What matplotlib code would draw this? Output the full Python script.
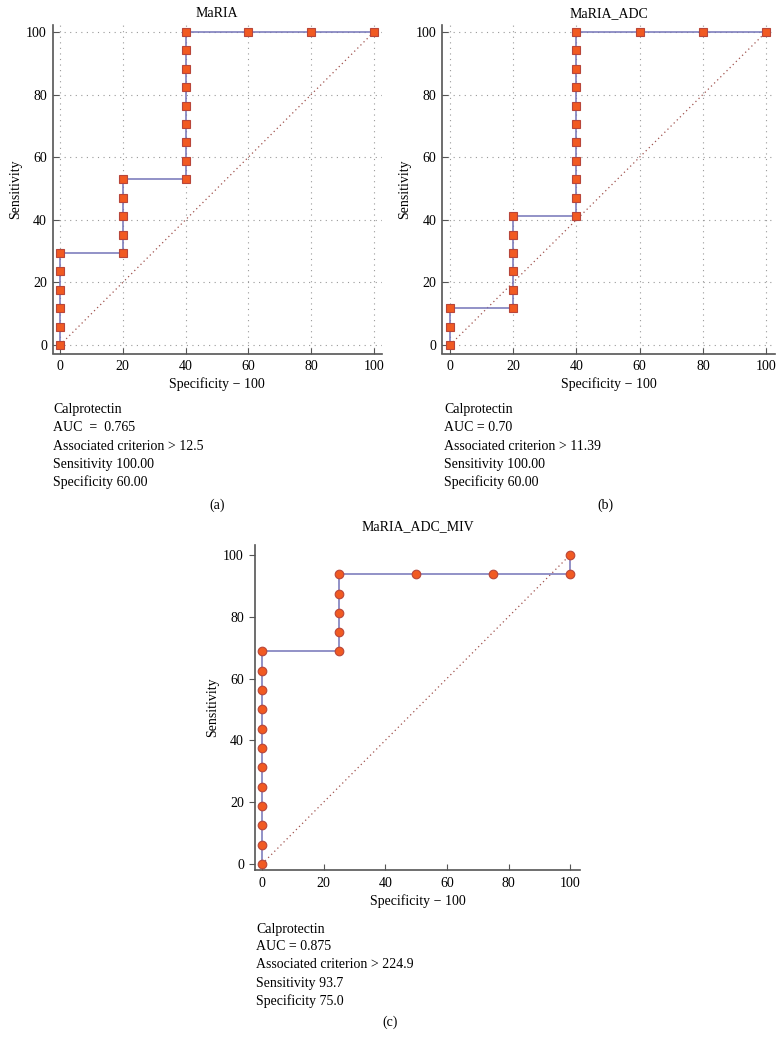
import matplotlib
matplotlib.use('Agg')
import matplotlib.pyplot as plt

plt.rcParams['font.family'] = ['Liberation Serif', 'DejaVu Serif']

W, H = 783, 1047

# ROC points (100 - specificity, sensitivity)
maria_x = [0, 0, 0, 0, 0, 0, 20, 20, 20, 20, 20, 40, 40, 40, 40, 40, 40, 40, 40, 40, 60, 80, 100]
maria_y = [0, 5.88, 11.76, 17.65, 23.53, 29.41, 29.41, 35.29, 41.18, 47.06, 52.94,
           52.94, 58.82, 64.71, 70.59, 76.47, 82.35, 88.24, 94.12, 100, 100, 100, 100]

adc_x = [0, 0, 0, 20, 20, 20, 20, 20, 20, 40, 40, 40, 40, 40, 40, 40, 40, 40, 40, 40, 60, 80, 100]
adc_y = [0, 5.88, 11.76, 11.76, 17.65, 23.53, 29.41, 35.29, 41.18,
         41.18, 47.06, 52.94, 58.82, 64.71, 70.59, 76.47, 82.35, 88.24, 94.12, 100, 100, 100, 100]

miv_x = [0] * 12 + [25, 25, 25, 25, 25, 50, 75, 100, 100]
miv_y = [0, 6.25, 12.5, 18.75, 25, 31.25, 37.5, 43.75, 50, 56.25, 62.5, 68.75,
         68.75, 75, 81.25, 87.5, 93.75, 93.75, 93.75, 93.75, 100]

ticks = [0, 20, 40, 60, 80, 100]

notes_a = ['Calprotectin', 'AUC  =  0.765', 'Associated criterion > 12.5',
           'Sensitivity 100.00', 'Specificity 60.00']
notes_b = ['Calprotectin', 'AUC = 0.70', 'Associated criterion > 11.39',
           'Sensitivity 100.00', 'Specificity 60.00']
notes_c = ['Calprotectin', 'AUC = 0.875', 'Associated criterion > 224.9',
           'Sensitivity 93.7', 'Specificity 75.0']

line_col = '#7474b8'
face_col = '#f15a22'
edge_col = '#b8463a'
diag_col = '#a0524d'
fs = 10


def box(l, r, t, b):
    return [l / W, 1 - b / H, (r - l) / W, (b - t) / H]


def roc_axes(fig, rect, xs, ys, title, marker, ms, xlim, ylim, grid, ytick_dir, title_pad):
    ax = fig.add_axes(rect)
    ax.plot([0, 100], [0, 100], linestyle=(0, (1, 2.5)), color=diag_col, lw=0.9, zorder=2)
    ax.plot(xs, ys, color=line_col, lw=1.1, marker=marker, ms=ms,
            mfc=face_col, mec=edge_col, mew=0.8, zorder=3, clip_on=False)
    ax.set_xlim(*xlim)
    ax.set_ylim(*ylim)
    ax.set_xticks(ticks)
    ax.set_yticks(ticks)
    for s in ['top', 'right']:
        ax.spines[s].set_visible(False)
    for s in ['left', 'bottom']:
        ax.spines[s].set_color('#555555')
        ax.spines[s].set_linewidth(1.2)
    ax.tick_params(axis='x', direction='in', length=4, color='#555555', labelsize=fs, pad=5)
    ax.tick_params(axis='y', direction=ytick_dir, length=4, color='#555555', labelsize=fs, pad=4)
    if grid:
        ax.grid(True, linestyle=(0, (1, 4)), color='#999999', lw=0.8)
        ax.set_axisbelow(True)
    ax.set_title(title, fontsize=fs, pad=title_pad)
    ax.set_xlabel('Specificity \u2212 100', fontsize=fs, labelpad=3)
    ax.set_ylabel('Sensitivity', fontsize=fs, labelpad=3)
    return ax


def notes(fig, x, y0, lines):
    for i, s in enumerate(lines):
        fig.text(x / W, 1 - (y0 + 18 * i) / H, s, fontsize=fs, va='center', ha='left')


fig = plt.figure(figsize=(W / 100, H / 100), dpi=100)

roc_axes(fig, box(52.5, 381.5, 25, 353.5), maria_x, maria_y, 'MaRIA', 's', 5.8,
         (-2.39, 102.39), (-2.7, 102.2), True, 'in', 6)
roc_axes(fig, box(442, 775, 25, 353.5), adc_x, adc_y, 'MaRIA_ADC', 's', 5.8,
         (-2.5, 102.8), (-2.7, 102.2), True, 'in', 6)
roc_axes(fig, box(255, 580, 545, 870), miv_x, miv_y, 'MaRIA_ADC_MIV', 'o', 6.2,
         (-2.27, 103.2), (-1.94, 103.2), False, 'out', 11)

notes(fig, 53, 410, notes_a)
notes(fig, 444, 410, notes_b)
notes(fig, 256, 929, notes_c)

fig.text(217 / W, 1 - 505 / H, '(a)', fontsize=fs, ha='center', va='center')
fig.text(605 / W, 1 - 505 / H, '(b)', fontsize=fs, ha='center', va='center')
fig.text(390 / W, 1 - 1022 / H, '(c)', fontsize=fs, ha='center', va='center')

fig.savefig('out.png', dpi=100)
